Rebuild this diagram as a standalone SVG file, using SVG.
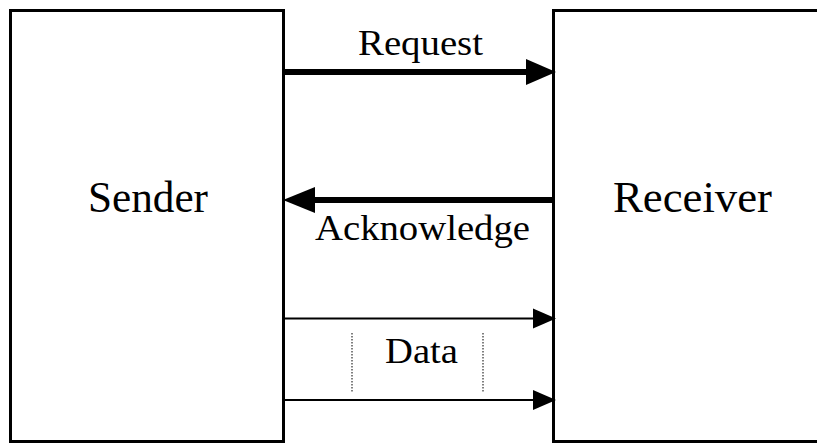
<svg xmlns="http://www.w3.org/2000/svg" width="817" height="444" viewBox="0 0 817 444">
<style>
.box{fill:#fff;stroke:#000;stroke-width:3}
.lbl{font-family:"Liberation Serif","Times New Roman",serif;fill:#000;text-anchor:middle}
.big{font-size:44px}
.mid{font-size:35px}
.thick{stroke:#000;stroke-width:6;fill:none}
.thin{stroke:#000;stroke-width:2;fill:none}
.dot{stroke:#555;stroke-width:1.5;stroke-dasharray:1.5 1.5;fill:none}
</style>
<rect width="817" height="444" fill="#fff"/>
<g id="sender">
<rect class="box" x="10.5" y="10.5" width="273" height="431"/>
<text class="lbl big" x="148" y="212" textLength="120" lengthAdjust="spacingAndGlyphs">Sender</text>
</g>
<g id="receiver">
<rect class="box" x="553.5" y="10.5" width="300" height="431"/>
<text class="lbl big" x="692.5" y="212" textLength="159" lengthAdjust="spacingAndGlyphs">Receiver</text>
</g>
<g id="connectors">
<line class="thick" x1="285" y1="72" x2="530" y2="72"/>
<polygon points="526,59 556,72 526,85" fill="#000"/>
<text class="lbl mid" x="420.5" y="55" textLength="125" lengthAdjust="spacingAndGlyphs">Request</text>
<line class="thick" x1="552" y1="200" x2="310" y2="200"/>
<polygon points="315,187 283,200 315,213" fill="#000"/>
<text class="lbl mid" x="422.5" y="240" textLength="215" lengthAdjust="spacingAndGlyphs">Acknowledge</text>
<line class="thin" x1="285" y1="318.5" x2="536" y2="318.5"/>
<polygon points="533,308.5 556,318.5 533,328.5" fill="#000"/>
<line class="thin" x1="285" y1="400" x2="536" y2="400"/>
<polygon points="533,390 556,400 533,410" fill="#000"/>
<line class="dot" x1="352" y1="333" x2="352" y2="392"/>
<line class="dot" x1="483" y1="333" x2="483" y2="392"/>
<text class="lbl mid" x="421.5" y="363" textLength="73" lengthAdjust="spacingAndGlyphs">Data</text>
</g>
</svg>
